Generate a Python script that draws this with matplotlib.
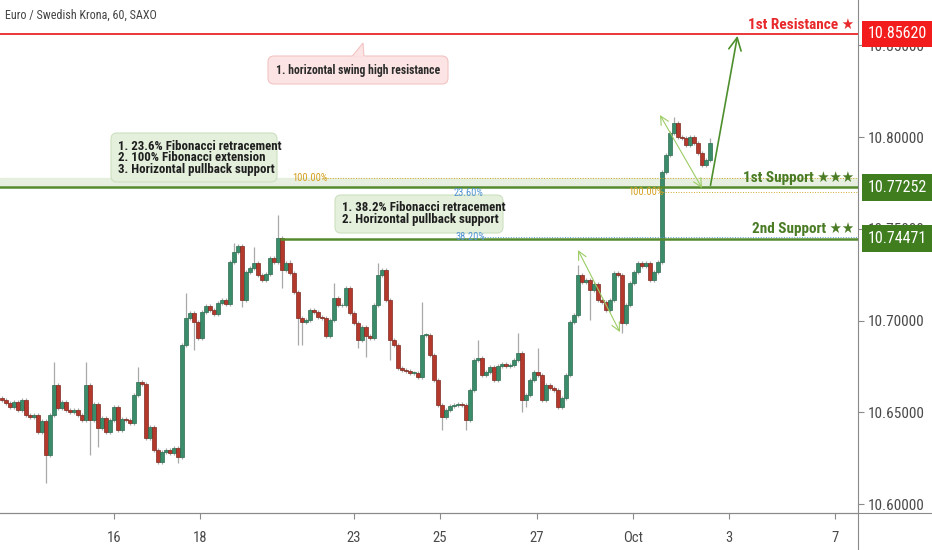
import matplotlib
matplotlib.use("Agg")
import matplotlib.pyplot as plt
from matplotlib.patches import FancyBboxPatch, Polygon, Rectangle
from matplotlib.transforms import Affine2D, blended_transform_factory

FONT = ["Roboto Condensed", "Liberation Sans Narrow", "DejaVu Sans"]
plt.rcParams["font.family"] = FONT
plt.rcParams["font.stretch"] = "condensed"

TITLE = "Euro / Swedish Krona, 60, SAXO"

# hourly closes (open = previous close)
FIRST_OPEN = 10.6580
closes = [
    10.6567, 10.6550, 10.6528, 10.6556, 10.6512, 10.6567, 10.6485, 10.6474, 10.6485, 10.6392,
    10.6452, 10.6267, 10.6485, 10.6648, 10.6523, 10.6556, 10.6512, 10.6501, 10.6512, 10.6485,
    10.6458, 10.6648, 10.6458, 10.6545, 10.6414, 10.6468, 10.6392, 10.6458, 10.6528, 10.6403,
    10.6463, 10.6458, 10.6441, 10.6594, 10.6665, 10.6654, 10.6359, 10.6419, 10.6294, 10.6229,
    10.6283, 10.6294, 10.6278, 10.6305, 10.6256, 10.6866, 10.7014, 10.7041, 10.6992, 10.6904,
    10.7046, 10.7079, 10.7057, 10.7035, 10.7095, 10.7112, 10.7090, 10.7319, 10.7373, 10.7406,
    10.7112, 10.7264, 10.7286, 10.7313, 10.7248, 10.7221, 10.7253, 10.7341, 10.7319, 10.7450,
    10.7275, 10.7313, 10.7259, 10.7155, 10.7014, 10.6992, 10.7003, 10.7057, 10.7046, 10.7019,
    10.7014, 10.6915, 10.7003, 10.7123, 10.7084, 10.7084, 10.7177, 10.7041, 10.6986, 10.6894,
    10.6964, 10.6915, 10.6904, 10.7084, 10.7248, 10.7275, 10.7112, 10.6894, 10.6866, 10.6741,
    10.6730, 10.6725, 10.6714, 10.6714, 10.6692, 10.6921, 10.6921, 10.6812, 10.6676, 10.6539,
    10.6474, 10.6512, 10.6534, 10.6539, 10.6545, 10.6539, 10.6458, 10.6621, 10.6785, 10.6796,
    10.6703, 10.6719, 10.6746, 10.6676, 10.6752, 10.6763, 10.6752, 10.6758, 10.6785, 10.6823,
    10.6567, 10.6594, 10.6676, 10.6719, 10.6703, 10.6567, 10.6648, 10.6632, 10.6621, 10.6528,
    10.6578, 10.6703, 10.6992, 10.7030, 10.7248, 10.7210, 10.7221, 10.7166, 10.7199, 10.7112,
    10.7101, 10.7057, 10.7112, 10.7259, 10.7248, 10.6986, 10.7084, 10.7204, 10.7264, 10.7313,
    10.7297, 10.7313, 10.7221, 10.7264, 10.7319, 10.7809, 10.7902, 10.8022, 10.8076, 10.8000,
    10.7995, 10.7957, 10.8000, 10.7967, 10.7913, 10.7847, 10.7875, 10.7967,
]

# long wicks that stand out in the picture (bar index -> price)
extra_highs = {
    13: 10.6773, 21: 10.6773, 34: 10.6746, 46: 10.7150, 58: 10.7422, 63: 10.7401,
    69: 10.7575, 72: 10.7330, 83: 10.7204, 94: 10.7313, 105: 10.7101, 119: 10.6896,
    129: 10.6931, 134: 10.6850, 144: 10.7300, 168: 10.8109, 177: 10.7995,
}
extra_lows = {
    11: 10.6114, 22: 10.6267, 24: 10.6310, 44: 10.6223, 48: 10.6839, 60: 10.7073,
    70: 10.7177, 74: 10.6866, 75: 10.6866, 89: 10.6850, 91: 10.6801, 97: 10.6785,
    110: 10.6403, 116: 10.6403, 130: 10.6501, 131: 10.6528, 147: 10.7003, 155: 10.6932,
}
WICK = 0.0009

RESISTANCE = 10.85620
SUPPORT_1 = 10.77252
SUPPORT_2 = 10.74471
FIB_100_TOP = 10.77765
FIB_100_LOW = 10.77000
FIB_382 = 10.74580

time_ticks = [28, 49.5, 88, 109.5, 133.75, 157.75, 181.75, 208.25]
time_labels = ["16", "18", "23", "25", "27", "Oct", "3", "7"]
price_ticks = [10.60, 10.65, 10.70, 10.75, 10.80, 10.85]

GREEN = "#3b8c6a"
RED = "#b4382c"
LEVEL_GREEN = "#558b2f"
LABEL_GREEN = "#3f7d1f"
RES_RED = "#e8282b"

W, H = 932, 550
fig = plt.figure(figsize=(W / 100, H / 100), dpi=100)
ax = fig.add_axes([0, 37 / H, 858 / W, 513 / H])
ax.set_xlim(-0.5, 214)
ax.set_ylim(10.5951, 10.8747)

# image-pixel transform (origin top-left) for callout boxes
px_tr = Affine2D().scale(1 / 100, -1 / 100).translate(0, H / 100) + fig.dpi_scale_trans

# candles
n = len(closes)
opens = [FIRST_OPEN] + closes[:-1]
idx = list(range(n))
highs = [extra_highs.get(i, max(opens[i], closes[i]) + WICK) for i in idx]
lows = [extra_lows.get(i, min(opens[i], closes[i]) - WICK) for i in idx]
ax.vlines(idx, lows, highs, color="#a8a8a8", lw=0.9, zorder=2)
bottoms = [min(o, c) for o, c in zip(opens, closes)]
heights = [max(abs(c - o), 0.0003) for o, c in zip(opens, closes)]
colors = [GREEN if c >= o else RED for o, c in zip(opens, closes)]
edges = ["#2c6b50" if c >= o else "#7d2a20" for o, c in zip(opens, closes)]
ax.bar(idx, heights, bottom=bottoms, width=0.8, color=colors,
       edgecolor=edges, linewidth=0.5, zorder=3)

# support zone and levels
ax.axhspan(SUPPORT_1, FIB_100_TOP, color="#e3eedb", alpha=0.85, zorder=1)
ax.axhline(RESISTANCE, color=RES_RED, lw=1.3, zorder=4)
ax.axhline(SUPPORT_1, color=LEVEL_GREEN, lw=1.8, zorder=4)
ax.hlines(SUPPORT_2, 69.5, 214, color=LEVEL_GREEN, lw=1.8, zorder=4)

ax.hlines(FIB_100_TOP, 80, 214, color="#d4a82a", lw=0.7, linestyles=":", zorder=4)
ax.hlines(FIB_100_LOW, 164.5, 214, color="#d4a82a", lw=0.7, linestyles=":", zorder=4)
ax.hlines(FIB_382, 120, 214, color="#5b9bd5", lw=0.7, linestyles=":", zorder=4)

# level names
ax.text(213, RESISTANCE + 0.0012, "1st Resistance \u2605", color=RES_RED, fontsize=11,
        fontweight="bold", ha="right", va="bottom", zorder=6)
ax.text(213, SUPPORT_1 + 0.0012, "1st Support \u2605\u2605\u2605", color="#4a7c25", fontsize=11,
        fontweight="bold", ha="right", va="bottom", zorder=6)
ax.text(213, SUPPORT_2 + 0.0012, "2nd Support \u2605\u2605", color="#4a7c25", fontsize=11,
        fontweight="bold", ha="right", va="bottom", zorder=6)

# arrows
ax.annotate("", xy=(184, 10.8567), xytext=(177, 10.7722),
            arrowprops=dict(arrowstyle="->,head_length=0.9,head_width=0.45",
                            color="#4e8f2d", lw=1.2), zorder=6)
for (x0, y0), (x1, y1) in [((144, 10.7384), (154.5, 10.6937)),
                           ((164.5, 10.8120), (175, 10.7722))]:
    ax.annotate("", xy=(x1, y1), xytext=(x0, y0),
                arrowprops=dict(arrowstyle="<->,head_length=0.6,head_width=0.3",
                                color="#9ccc65", lw=0.8, shrinkA=0, shrinkB=0), zorder=6)

# axes styling
for side in ["left", "top"]:
    ax.spines[side].set_visible(False)
ax.spines["right"].set_color("#8a8a8a")
ax.spines["bottom"].set_color("#8a8a8a")
ax.yaxis.tick_right()
ax.set_yticks(price_ticks)
ax.set_yticklabels([f"{p:.5f}" for p in price_ticks])
ax.set_xticks(time_ticks)
ax.set_xticklabels(time_labels)
ax.tick_params(axis="y", length=4, color="#8a8a8a", labelcolor="#4a4a4a", labelsize=11, pad=3)
ax.tick_params(axis="x", length=4, color="#8a8a8a", labelcolor="#4a4a4a", labelsize=10.5, pad=9)

# price boxes on the right scale
box_tr = blended_transform_factory(fig.transFigure, ax.transData)
half = 0.0071
for level, col in [(RESISTANCE, "#f21c1c"), (SUPPORT_1, LABEL_GREEN), (SUPPORT_2, LABEL_GREEN)]:
    ax.add_patch(Rectangle((862 / W, level - half), 70 / W, 2 * half, transform=box_tr,
                           facecolor=col, edgecolor="none", clip_on=False, zorder=7))
    ax.text(897 / W, level, f"{level:.5f}", transform=box_tr, color="white", fontsize=11.5,
            ha="center", va="center", clip_on=False, zorder=8)

# extend the frame lines into the scale areas
fig.add_artist(plt.Line2D([0, 1], [37 / H, 37 / H], color="#8a8a8a", lw=0.8))
fig.add_artist(plt.Line2D([858 / W, 858 / W], [0, 37 / H], color="#8a8a8a", lw=0.8))

# callouts
def callout(x0, y0, x1, y1, face, edge):
    fig.add_artist(FancyBboxPatch((x0, y0), x1 - x0, y1 - y0, transform=px_tr,
                                  boxstyle="round,pad=0,rounding_size=6",
                                  facecolor=face, edgecolor=edge, lw=0.8))

callout(268, 56, 448, 84, "#fde4e4", "#f2c4c4")
fig.add_artist(Polygon([(352, 56.5), (363, 43), (364, 56.5)], closed=True, transform=px_tr,
                       facecolor="#fde4e4", edgecolor="#f2c4c4", lw=0.8))
fig.add_artist(plt.Line2D([352.5, 363.5], [56.5, 56.5], transform=px_tr, color="#fde4e4", lw=1.2))
fig.text(358, 70.5, "1. horizontal swing high resistance", transform=px_tr, fontsize=8.5,
         fontweight="bold", color="#2b2b2b", ha="center", va="center")

callout(111, 133, 277, 182, "#e4f0dc", "#cde0c0")
fig.text(118, 157.5, "1. 23.6% Fibonacci retracement\n2. 100% Fibonacci extension\n"
         "3. Horizontal pullback support", transform=px_tr, fontsize=9.3, fontweight="bold",
         color="#1f1f1f", ha="left", va="center", linespacing=0.85)

callout(335, 195, 503, 233, "#e4f0dc", "#cde0c0")
fig.text(342, 213.5, "1. 38.2% Fibonacci retracement\n2. Horizontal pullback support",
         transform=px_tr, fontsize=9.3, fontweight="bold", color="#1f1f1f",
         ha="left", va="center", linespacing=0.85)

# fibonacci level tags, drawn over the callouts
fib_tr = blended_transform_factory(ax.transData, ax.transData)
for x, y, txt, col, va in [(72.5, FIB_100_TOP, "100.00%", "#d4a020", "center"),
                           (156.5, FIB_100_LOW, "100.00%", "#d4a020", "center"),
                           (112.8, SUPPORT_1 - 0.0003, "23.60%", "#4f93d1", "top"),
                           (113.3, FIB_382 - 0.0003, "38.20%", "#4f93d1", "center")]:
    fig.text(x, y, txt, transform=fib_tr, color=col, fontsize=7.5, va=va)

fig.text(5, 15, TITLE, transform=px_tr, fontsize=8.7, color="#444444", ha="left", va="center")

fig.savefig("out.png", dpi=100)
